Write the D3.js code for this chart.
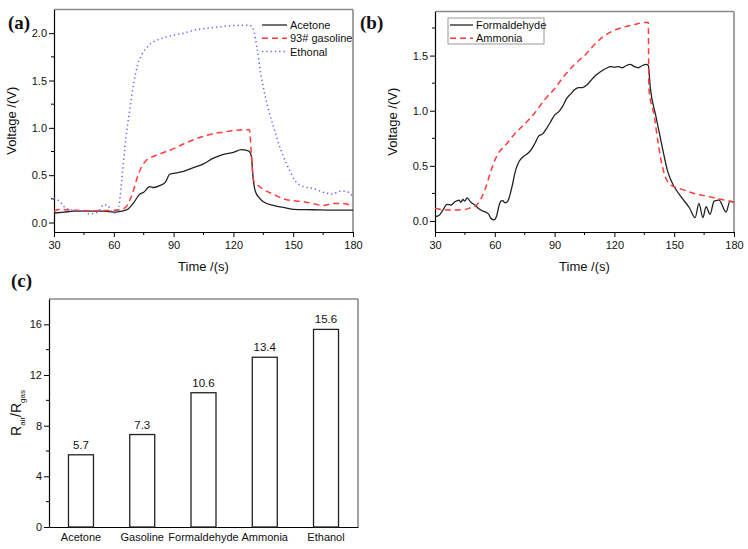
<!DOCTYPE html>
<html><head><meta charset="utf-8">
<script src="https://cdn.jsdelivr.net/npm/d3@7/dist/d3.min.js"></script>
<style>
body{margin:0;background:#fff;}
svg{display:block;font-family:Arial,"Liberation Sans",sans-serif;}
</style></head>
<body><svg id="c" width="748" height="549"></svg>
<script>
// ---------- DATA ----------
// Panel (a)
const acetoneT = [30,35,40,45,50,55,60,64,67,70,73,75,78,80,83,86,88,90,95,100,105,110,115,120,124,127,128,129,130,131,133,135,140,145,150,160,170,180];
const acetoneV = [0.10,0.11,0.12,0.12,0.12,0.12,0.11,0.12,0.14,0.21,0.30,0.32,0.38,0.37,0.39,0.43,0.51,0.52,0.54,0.58,0.62,0.68,0.72,0.74,0.77,0.76,0.75,0.70,0.45,0.33,0.26,0.22,0.18,0.16,0.14,0.135,0.13,0.13];
const gasolineT = [30,33,40,50,60,64,67,70,72,74,76,80,85,90,95,100,105,110,115,120,125,128,129,130,132,135,140,145,150,155,160,165,170,175,180];
const gasolineV = [0.12,0.14,0.13,0.125,0.13,0.14,0.19,0.35,0.49,0.59,0.65,0.70,0.74,0.78,0.83,0.875,0.91,0.94,0.955,0.97,0.98,0.98,0.73,0.45,0.40,0.35,0.30,0.25,0.23,0.22,0.20,0.18,0.20,0.20,0.17];
const ethanolT = [30,33,36,40,45,48,52,55,57,59,61,62,63,64,66,68,70,72,74,77,80,85,90,95,100,110,120,128,130,132,134,136,138,140,142,145,148,151,153,155,160,165,170,173,176,180];
const ethanolV = [0.26,0.22,0.15,0.13,0.12,0.09,0.11,0.19,0.18,0.12,0.10,0.12,0.24,0.45,0.88,1.19,1.47,1.67,1.77,1.86,1.91,1.95,1.98,2.00,2.03,2.06,2.08,2.085,2.04,1.82,1.54,1.33,1.16,1.02,0.88,0.70,0.56,0.44,0.40,0.38,0.36,0.32,0.30,0.33,0.33,0.28];
// Panel (b)
const formT = [30,32,34,36,38,40,42,43,44,45,46,48,50,52,54,56,57,58,59.5,61,62,63,64,65,66,67,68,69,70,72,74,76,78,80,82,84,86,88,90,92,94,96,98,100,102,104,106,108,110,112,114,116,118,120,122,124,126,128,130,132,134,136,137,138,140.7,144,146.8,150,153.4,157.6,160.5,162.4,164.4,166,168,170,172.5,176,178,180];
const formV = [0.04,0.05,0.10,0.15,0.145,0.175,0.19,0.17,0.195,0.18,0.21,0.17,0.145,0.11,0.09,0.075,0.06,0.025,0.01,0.05,0.13,0.18,0.185,0.165,0.17,0.20,0.265,0.34,0.43,0.535,0.58,0.605,0.64,0.70,0.77,0.79,0.84,0.90,0.96,0.99,1.04,1.11,1.15,1.19,1.21,1.21,1.23,1.27,1.31,1.34,1.365,1.385,1.40,1.395,1.40,1.39,1.41,1.42,1.40,1.39,1.41,1.42,1.41,1.21,0.96,0.67,0.445,0.31,0.22,0.12,0.03,0.16,0.03,0.13,0.06,0.18,0.19,0.08,0.18,0.17];
const ammoniaT = [30,35,40,45,48,50,53,55,58,60,62,65,70,75,80,85,90,95,100,105,110,115,120,125,130,135,137,137.3,140,142,144,146,148,150,155,160,165,170,175,180];
const ammoniaV = [0.115,0.10,0.10,0.105,0.12,0.13,0.20,0.28,0.45,0.55,0.62,0.68,0.79,0.88,0.98,1.10,1.20,1.32,1.42,1.50,1.60,1.68,1.73,1.76,1.78,1.80,1.80,1.20,0.95,0.70,0.50,0.38,0.33,0.31,0.28,0.25,0.23,0.21,0.19,0.17];
// Panel (c)
const gases = ["Acetone","Gasoline","Formaldehyde","Ammonia","Ethanol"];
const ratios = [5.7,7.3,10.6,13.4,15.6];
// Ticks
const timeTicks = [30,60,90,120,150,180];
const voltTicksA = [0.0,0.5,1.0,1.5,2.0];
const voltTicksB = [0.0,0.5,1.0,1.5];
const ratioTicks = [0,4,8,12,16];
const legendA = ["Acetone","93# gasoline","Ethonal"];
const legendB = ["Formaldehyde","Ammonia"];

// ---------- DRAW ----------
const svg = d3.select("#c");
const AX = "#000", FR = "#8a8a8a";
const RED = "#ff3b3b", BLUE = "#6464ff", BLK = "#222";

function frame(g, x0, x1, y0, y1){
  g.append("line").attr("x1",x0).attr("x2",x1).attr("y1",y0).attr("y2",y0).attr("stroke",FR).attr("stroke-width",1.6);
  g.append("line").attr("x1",x1).attr("x2",x1).attr("y1",y0).attr("y2",y1).attr("stroke",FR).attr("stroke-width",1.6);
}
function minorTicksX(g, x, vals, y){
  vals.forEach(v=>g.append("line").attr("x1",x(v)).attr("x2",x(v)).attr("y1",y).attr("y2",y+3).attr("stroke",AX).attr("stroke-width",1));
}
function minorTicksY(g, y, vals, x){
  vals.forEach(v=>g.append("line").attr("y1",y(v)).attr("y2",y(v)).attr("x1",x).attr("x2",x-3).attr("stroke",AX).attr("stroke-width",1));
}
function styleAxis(a){
  a.select(".domain").attr("stroke",AX).attr("stroke-width",1.2);
  a.selectAll(".tick line").attr("stroke",AX);
  a.selectAll(".tick text").attr("fill","#111").style("font-size","11px");
}

function linePanel(opt){
  const g = svg.append("g");
  const x = d3.scaleLinear().domain([30,180]).range([opt.l,opt.r]);
  const y = d3.scaleLinear().domain(opt.yd).range([opt.b,opt.t]);
  frame(g, opt.l, opt.r, opt.t, opt.b);
  const xa = g.append("g").attr("transform",`translate(0,${opt.b})`)
    .call(d3.axisBottom(x).tickValues(timeTicks).tickSize(5).tickSizeOuter(0).tickPadding(4).tickFormat(d3.format("d")));
  styleAxis(xa);
  const ya = g.append("g").attr("transform",`translate(${opt.l},0)`)
    .call(d3.axisLeft(y).tickValues(opt.yt).tickSize(5).tickSizeOuter(0).tickPadding(2).tickFormat(d3.format(".1f")));
  styleAxis(ya);
  minorTicksX(g, x, [45,75,105,135,165], opt.b);
  minorTicksY(g, y, opt.ym, opt.l);
  const clip = "clip"+opt.id;
  g.append("clipPath").attr("id",clip).append("rect").attr("x",opt.l).attr("y",opt.t).attr("width",opt.r-opt.l).attr("height",opt.b-opt.t);
  const ln = d3.line().x(d=>x(d[0])).y(d=>y(d[1])).curve(d3.curveMonotoneX);
  opt.series.forEach(s=>{
    g.append("path").attr("clip-path",`url(#${clip})`).datum(s.t.map((t,i)=>[t,s.v[i]]))
      .attr("d",ln).attr("fill","none").attr("stroke",s.c).attr("stroke-width",s.w)
      .attr("stroke-dasharray",s.dash||null);
  });
  g.append("text").attr("x",(opt.l+opt.r)/2).attr("y",opt.b+39).attr("text-anchor","middle")
    .style("font-size","13px").attr("fill","#111").text("Time /(s)");
  g.append("text").attr("transform",`translate(${opt.l-38},${(opt.t+opt.b)/2}) rotate(-90)`)
    .attr("text-anchor","middle").style("font-size","13px").attr("fill","#111").text("Voltage /(V)");
  g.append("text").attr("x",opt.lx).attr("y",opt.ly).style("font-family","'Liberation Serif','Times New Roman',serif")
    .style("font-weight","bold").style("font-size","19px").attr("fill","#111").text(opt.label);
  // legend
  const lg = g.append("g");
  if(opt.legBox){
    lg.append("rect").attr("x",opt.legBox[0]).attr("y",opt.legBox[1]).attr("width",opt.legBox[2]).attr("height",opt.legBox[3])
      .attr("fill","#fff").attr("stroke","#999").attr("stroke-width",1);
  }
  opt.legend.forEach((name,i)=>{
    const s = opt.series[i];
    const yy = opt.legY + i*opt.legDy;
    lg.append("line").attr("x1",opt.legX).attr("x2",opt.legX+opt.legW).attr("y1",yy).attr("y2",yy)
      .attr("stroke",s.c).attr("stroke-width",s.w).attr("stroke-dasharray",s.dash||null);
    lg.append("text").attr("x",opt.legX+opt.legW+3).attr("y",yy+4).style("font-size","11px").attr("fill","#111").text(name);
  });
}

linePanel({id:"a", l:54, r:353, t:9.5, b:232, yd:[-0.1,2.25], yt:voltTicksA, ym:[0.25,0.75,1.25,1.75],
  label:"(a)", lx:8, ly:29,
  legend:legendA, legX:262, legW:25, legY:25, legDy:13.3,
  series:[
    {t:acetoneT, v:acetoneV, c:BLK, w:1.3},
    {t:gasolineT, v:gasolineV, c:RED, w:1.5, dash:"6,4"},
    {t:ethanolT, v:ethanolV, c:BLUE, w:1.5, dash:"1.3,3"}
  ]});
linePanel({id:"b", l:435, r:734, t:11.5, b:232, yd:[-0.1,1.9], yt:voltTicksB, ym:[0.25,0.75,1.25,1.75],
  label:"(b)", lx:360, ly:29,
  legend:legendB, legX:450, legW:23, legY:25, legDy:13.3, legBox:[448,18,96,26],
  series:[
    {t:formT, v:formV, c:BLK, w:1.3},
    {t:ammoniaT, v:ammoniaV, c:RED, w:1.5, dash:"6,4"}
  ]});

// Panel (c)
(function(){
  const l=49, r=358, t=299, b=527;
  const g = svg.append("g");
  const x = d3.scaleBand().domain(gases).range([l,r]).paddingInner(0.592).paddingOuter(0.318);
  const y = d3.scaleLinear().domain([0,18]).range([b,t]);
  frame(g,l,r,t,b);
  const xa = g.append("g").attr("transform",`translate(0,${b})`).call(d3.axisBottom(x).tickSize(0).tickPadding(6));
  styleAxis(xa);
  const ya = g.append("g").attr("transform",`translate(${l},0)`).call(d3.axisLeft(y).tickValues(ratioTicks).tickSize(5).tickSizeOuter(0).tickPadding(2));
  styleAxis(ya);
  minorTicksY(g,y,[2,6,10,14],l);
  g.selectAll("rect.bar").data(gases).enter().append("rect").attr("class","bar")
    .attr("x",d=>x(d)).attr("width",x.bandwidth())
    .attr("y",(d,i)=>y(ratios[i])).attr("height",(d,i)=>y(0)-y(ratios[i]))
    .attr("fill","#fff").attr("stroke","#222").attr("stroke-width",1.3);
  g.selectAll("text.val").data(gases).enter().append("text").attr("class","val")
    .attr("x",d=>x(d)+x.bandwidth()/2).attr("y",(d,i)=>y(ratios[i])-6).attr("text-anchor","middle")
    .style("font-size","11.5px").attr("fill","#111").text((d,i)=>ratios[i].toFixed(1));
  const yl = g.append("text").attr("transform",`translate(${l-28},${(t+b)/2}) rotate(-90)`).attr("text-anchor","middle")
    .style("font-size","14px").attr("fill","#111");
  yl.append("tspan").text("R");
  yl.append("tspan").attr("dy",4).style("font-size","8px").text("air");
  yl.append("tspan").attr("dy",-4).text("/R");
  yl.append("tspan").attr("dy",4).style("font-size","8px").text("gas");
  g.append("text").attr("x",11).attr("y",287).style("font-family","'Liberation Serif','Times New Roman',serif")
    .style("font-weight","bold").style("font-size","19px").attr("fill","#111").text("(c)");
})();
</script></body></html>
